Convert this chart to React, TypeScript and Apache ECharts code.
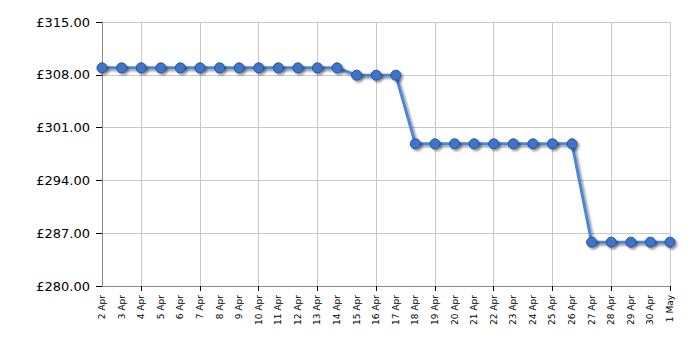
import React, { useEffect, useRef } from "react";
import * as echarts from "echarts";

const categories = [
  "2 Apr", "3 Apr", "4 Apr", "5 Apr", "6 Apr", "7 Apr", "8 Apr", "9 Apr", "10 Apr", "11 Apr",
  "12 Apr", "13 Apr", "14 Apr", "15 Apr", "16 Apr", "17 Apr", "18 Apr", "19 Apr", "20 Apr", "21 Apr",
  "22 Apr", "23 Apr", "24 Apr", "25 Apr", "26 Apr", "27 Apr", "28 Apr", "29 Apr", "30 Apr", "1 May",
];

const prices = [
  308.92, 308.92, 308.92, 308.92, 308.92, 308.92, 308.92, 308.92, 308.92, 308.92,
  308.92, 308.92, 308.92, 307.95, 307.95, 307.95, 298.85, 298.85, 298.85, 298.85,
  298.85, 298.85, 298.85, 298.85, 298.85, 285.81, 285.81, 285.81, 285.81, 285.81,
];

const yMin = 280;
const yMax = 315;
const yInterval = 7;

export default function App() {
  const ref = useRef<HTMLDivElement>(null);
  useEffect(() => {
    if (!ref.current) return;
    const chart = echarts.init(ref.current, undefined, { renderer: "svg" });
    const every3 = (i: number) => (i - 2) % 3 === 0;
    chart.setOption({
      animation: false,
      grid: { left: 102, right: 30, top: 22, bottom: 64 },
      xAxis: {
        type: "category",
        data: categories,
        boundaryGap: false,
        axisLine: { lineStyle: { color: "#888888", width: 1 } },
        axisTick: { show: true, interval: every3, length: 5, lineStyle: { color: "#000" } },
        axisLabel: {
          interval: 0,
          rotate: 90,
          fontFamily: "DejaVu Sans",
          fontSize: 9,
          color: "#000",
          margin: 9,
        },
        splitLine: { show: true, interval: every3, lineStyle: { color: "#c8c8c8", width: 1 } },
      },
      yAxis: {
        type: "value",
        min: yMin,
        max: yMax,
        interval: yInterval,
        axisLine: { show: true, lineStyle: { color: "#888888", width: 1 } },
        axisTick: { show: true, length: 6, lineStyle: { color: "#000" } },
        axisLabel: {
          formatter: (v: number) => "£" + v.toFixed(2),
          fontFamily: "DejaVu Sans",
          fontSize: 13,
          color: "#000",
          margin: 12,
        },
        splitLine: { show: true, lineStyle: { color: "#c8c8c8", width: 1 } },
      },
      series: [
        {
          type: "line",
          data: prices,
          symbol: "circle",
          symbolSize: 10,
          lineStyle: {
            color: "#4a86dc",
            width: 3,
            shadowColor: "rgba(0,0,0,0.4)",
            shadowOffsetX: 2,
            shadowOffsetY: 2,
            shadowBlur: 2,
          },
          itemStyle: {
            color: "#3c74cc",
            borderColor: "#2a4f8a",
            borderWidth: 1,
            shadowColor: "rgba(0,0,0,0.4)",
            shadowOffsetX: 2,
            shadowOffsetY: 2,
            shadowBlur: 2,
          },
        },
      ],
    });
    return () => chart.dispose();
  }, []);
  return <div ref={ref} style={{ width: 700, height: 350, position: "absolute", left: 0, top: 0 }} />;
}
